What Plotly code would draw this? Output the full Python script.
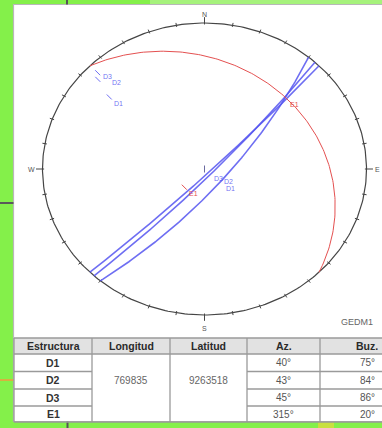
import numpy as np
import plotly.graph_objects as go

# Structural data (strike by right-hand rule, dip)
estructuras = ["D1", "D2", "D3", "E1"]
azimut = [40, 43, 45, 315]
buzamiento = [75, 84, 86, 20]
longitud = "769835"
latitud = "9263518"
encabezados = ["Estructura", "Longitud", "Latitud", "Az.", "Buz."]
colores = ["rgba(85,85,240,0.85)", "rgba(85,85,240,0.85)", "rgba(85,85,240,0.85)", "#e45050"]
estacion = "GEDM1"
puntos_cardinales = ["N", "E", "S", "W"]

# Label nudges (pixels) so that neighbouring labels sit side by side
desplaz_plano = {"D1": (3, -2), "D2": (11, -2), "D3": (3, 0), "E1": (3, -2)}
desplaz_polo = {"D1": (3, -1), "D2": (12, 2), "D3": (3, 2), "E1": (3, -1)}

# Page geometry (pixels)
W, H = 382, 428
CX, CY, RX, RY = 204.5, 169.0, 162.0, 146.0
FUENTE = "Liberation Sans"


def px(x):
    return x / W


def py(y):
    return 1 - y / H


def wulff(trend_deg, plunge_deg):
    """Equal-angle (Wulff) lower-hemisphere projection of a line."""
    r = np.tan(np.radians(90 - plunge_deg) / 2)
    t = np.radians(trend_deg)
    return r * np.sin(t), r * np.cos(t)


def plano(strike, dip, n=181):
    """Great circle of a plane: lines in the plane from strike to strike+180."""
    s, d = np.radians(strike), np.radians(dip)
    t = np.radians(np.linspace(0, 180, n))
    nn = np.cos(t) * np.cos(s) + np.sin(t) * np.cos(d) * np.cos(s + np.pi / 2)
    ee = np.cos(t) * np.sin(s) + np.sin(t) * np.cos(d) * np.sin(s + np.pi / 2)
    dn = np.sin(t) * np.sin(d)
    plunge = np.degrees(np.arcsin(np.clip(dn, -1, 1)))
    trend = np.degrees(np.arctan2(ee, nn))
    return wulff(trend, plunge)


def texto(x, y, t, size, color, xanchor="center", yanchor="middle", ref="paper", **kw):
    fig.add_annotation(xref=ref, yref=ref, x=x, y=y, text=t, showarrow=False,
                       xanchor=xanchor, yanchor=yanchor,
                       font=dict(size=size, color=color, family=FUENTE), **kw)


fig = go.Figure()

# Primitive circle
ang = np.radians(np.linspace(0, 360, 361))
fig.add_trace(go.Scatter(x=np.sin(ang), y=np.cos(ang), mode="lines",
                         line=dict(color="#454545", width=1.2), hoverinfo="skip"))

# Ticks every 10 degrees, longer at the cardinal points
tx, ty = [], []
for a in range(0, 360, 10):
    r0, r1 = (0.99, 1.04) if a % 90 == 0 else (0.988, 1.016)
    ar = np.radians(a)
    tx += [r0 * np.sin(ar), r1 * np.sin(ar), None]
    ty += [r0 * np.cos(ar), r1 * np.cos(ar), None]
fig.add_trace(go.Scatter(x=tx, y=ty, mode="lines",
                         line=dict(color="#454545", width=1), hoverinfo="skip"))

# Centre mark
fig.add_trace(go.Scatter(x=[0], y=[0], mode="markers",
                         marker=dict(symbol="line-ns", size=5, line=dict(color="#6a6aa0", width=1)),
                         hoverinfo="skip"))

# Great circles, their labels and poles
for nombre, az, bz, col in zip(estructuras, azimut, buzamiento, colores):
    gx, gy = plano(az, bz)
    ancho = 1.6 if nombre != "E1" else 1.0
    fig.add_trace(go.Scatter(x=gx, y=gy, mode="lines", line=dict(color=col, width=ancho),
                             hoverinfo="skip"))
    dx, dy = desplaz_plano[nombre]
    texto(gx[90], gy[90], nombre, 7, col, xanchor="left", yanchor="top", ref=None,
          xshift=dx, yshift=dy)
    ppx, ppy = wulff(az - 90, 90 - bz)
    fig.add_trace(go.Scatter(x=[ppx], y=[ppy], mode="markers",
                             marker=dict(symbol="line-nw", size=5, line=dict(color=col, width=1)),
                             hoverinfo="skip"))
    dx, dy = desplaz_polo[nombre]
    texto(ppx, ppy, nombre, 7, col, xanchor="left", yanchor="top", ref=None, xshift=dx, yshift=dy)

# Cardinal letters
for letra, a in zip(puntos_cardinales, [0, 90, 180, 270]):
    ar = np.radians(a)
    rr = 1.06 if a % 180 == 0 else 1.065
    texto(rr * np.sin(ar), rr * np.cos(ar) - (0.03 if a == 180 else 0), letra, 7, "#555", ref=None)

shapes = []
# Green page strips, white panel
shapes.append(dict(type="rect", xref="paper", yref="paper", x0=px(150), x1=px(W), y0=py(0), y1=py(4.5),
                   fillcolor="#a6f27c", line=dict(width=0), layer="below"))
shapes.append(dict(type="rect", xref="paper", yref="paper", x0=px(13.5), x1=px(W + 40), y0=py(4.5), y1=py(421.5),
                   fillcolor="white", line=dict(color="#b8b8b8", width=1.2), layer="below"))
# Stray lines around the panel
shapes.append(dict(type="line", xref="paper", yref="paper", x0=px(67), x1=px(67), y0=py(0), y1=py(4.5),
                   line=dict(color="#555", width=2)))
shapes.append(dict(type="line", xref="paper", yref="paper", x0=px(67.5), x1=px(67.5), y0=py(421.5), y1=py(H),
                   line=dict(color="#555", width=2)))
shapes.append(dict(type="line", xref="paper", yref="paper", x0=px(0), x1=px(13.5), y0=py(203), y1=py(203),
                   line=dict(color="#5a5a5a", width=2)))
shapes.append(dict(type="line", xref="paper", yref="paper", x0=px(0), x1=px(13.5), y0=py(380), y1=py(380),
                   line=dict(color="#d8b040", width=2)))
shapes.append(dict(type="rect", xref="paper", yref="paper", x0=px(318), x1=px(334), y0=py(422), y1=py(H),
                   fillcolor="#c8e040", line=dict(width=0)))

# Table
cols = [14, 92, 170, 247, 320, 414]
rows = [338, 354, 371.5, 389, 406, 422]
shapes.append(dict(type="rect", xref="paper", yref="paper", x0=px(cols[0]), x1=px(cols[-1]),
                   y0=py(rows[0]), y1=py(rows[1]), fillcolor="#e2e2e2", line=dict(width=0), layer="below"))
gris = dict(color="#9a9a9a", width=1.3)
for yy in [rows[0], rows[1], rows[-1]]:
    shapes.append(dict(type="line", xref="paper", yref="paper", x0=px(cols[0]), x1=px(cols[-1]),
                       y0=py(yy), y1=py(yy), line=gris))
for yy in rows[2:-1]:
    for a, b in [(cols[0], cols[1]), (cols[3], cols[5])]:
        shapes.append(dict(type="line", xref="paper", yref="paper", x0=px(a), x1=px(b),
                           y0=py(yy), y1=py(yy), line=gris))
for xx in cols[:-1]:
    shapes.append(dict(type="line", xref="paper", yref="paper", x0=px(xx), x1=px(xx),
                       y0=py(rows[0]), y1=py(rows[-1]), line=gris))

centros = [(cols[i] + cols[i + 1]) / 2 for i in range(5)]
for c, t in zip(centros, encabezados):
    texto(px(c), py((rows[0] + rows[1]) / 2), f"<b>{t}</b>", 10.5, "#2a2a2a")
for i, (nombre, az, bz) in enumerate(zip(estructuras, azimut, buzamiento)):
    ym = py((rows[i + 1] + rows[i + 2]) / 2)
    texto(px(centros[0]), ym, f"<b>{nombre}</b>", 10.5, "#333")
    texto(px(centros[3]), ym, f"{az}°", 10, "#555")
    texto(px(centros[4]), ym, f"{bz}°", 10, "#555")
for c, t in [(centros[1], longitud), (centros[2], latitud)]:
    texto(px(c), py(380), t, 10, "#666")

texto(px(357), py(322), estacion, 9, "#666")

fig.update_layout(
    width=W, height=H, margin=dict(l=0, r=0, t=0, b=0),
    paper_bgcolor="#84f04a", plot_bgcolor="rgba(0,0,0,0)",
    showlegend=False, shapes=shapes,
    xaxis=dict(range=[(0 - CX) / RX, (W - CX) / RX], visible=False, fixedrange=True),
    yaxis=dict(range=[(CY - H) / RY, CY / RY], visible=False, fixedrange=True),
)

fig.write_html("out.html", config={"displayModeBar": False})
